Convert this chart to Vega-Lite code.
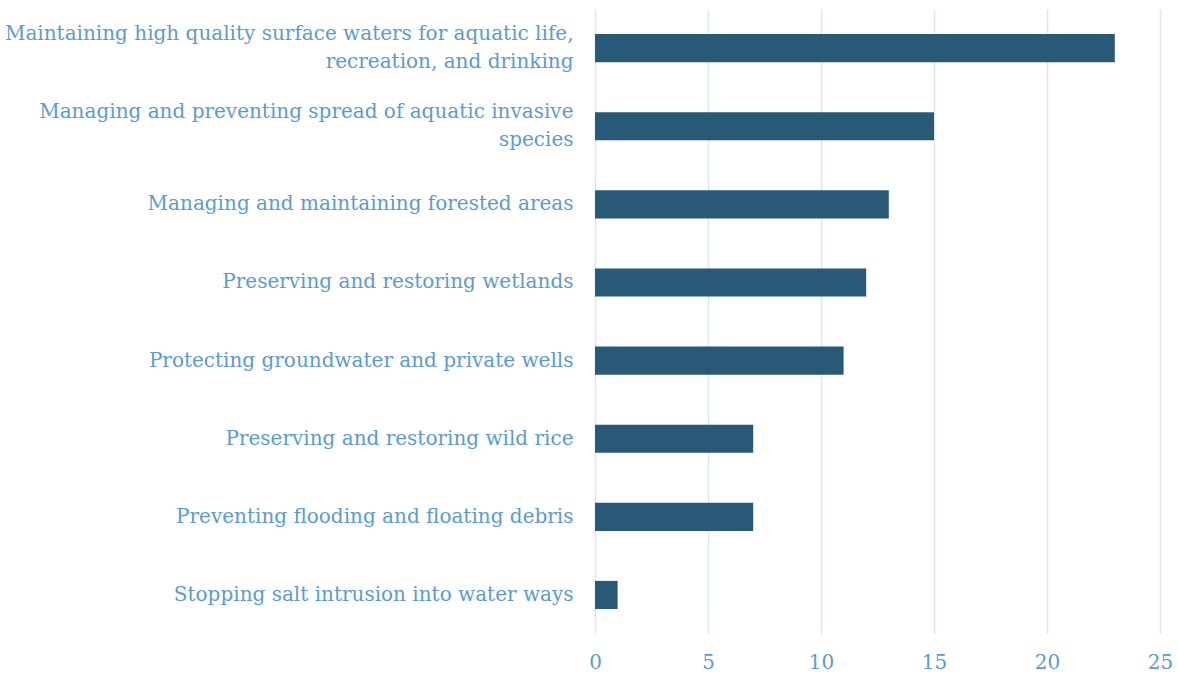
{
  "$schema": "https://vega.github.io/schema/vega-lite/v6.json",
  "width": 565,
  "height": 625,
  "autosize": "none",
  "padding": {"left": 595, "top": 9, "right": 18, "bottom": 43},
  "background": "white",
  "data": {
    "values": [
      {"topic": "Maintaining high quality surface waters for aquatic life,|recreation, and drinking", "count": 23},
      {"topic": "Managing and preventing spread of aquatic invasive|species", "count": 15},
      {"topic": "Managing and maintaining forested areas", "count": 13},
      {"topic": "Preserving and restoring wetlands", "count": 12},
      {"topic": "Protecting groundwater and private wells", "count": 11},
      {"topic": "Preserving and restoring wild rice", "count": 7},
      {"topic": "Preventing flooding and floating debris", "count": 7},
      {"topic": "Stopping salt intrusion into water ways", "count": 1}
    ]
  },
  "mark": {"type": "bar", "color": "#285a78"},
  "encoding": {
    "y": {
      "field": "topic",
      "type": "nominal",
      "sort": null,
      "scale": {"paddingInner": 0.64, "paddingOuter": 0.32},
      "axis": {
        "title": null,
        "domain": false,
        "ticks": false,
        "grid": false,
        "labelExpr": "split(datum.value, '|')",
        "labelOffset": {"expr": "indexof(datum.value, '|') >= 0 ? -14 : 0"},
        "labelFont": "DejaVu Serif",
        "labelFontSize": 20,
        "labelColor": "#5b9bd0",
        "labelPadding": 22,
        "labelLimit": 700,
        "labelLineHeight": 28
      }
    },
    "x": {
      "field": "count",
      "type": "quantitative",
      "scale": {"domain": [0, 25], "nice": false},
      "axis": {
        "title": null,
        "values": [0, 5, 10, 15, 20, 25],
        "domain": false,
        "ticks": false,
        "grid": true,
        "gridColor": "#dae8f3",
        "gridWidth": 1.5,
        "labelFlush": false,
        "labelFont": "DejaVu Serif",
        "labelFontSize": 20,
        "labelColor": "#5b9bd0",
        "labelPadding": 18
      }
    }
  },
  "config": {"view": {"stroke": null}}
}
